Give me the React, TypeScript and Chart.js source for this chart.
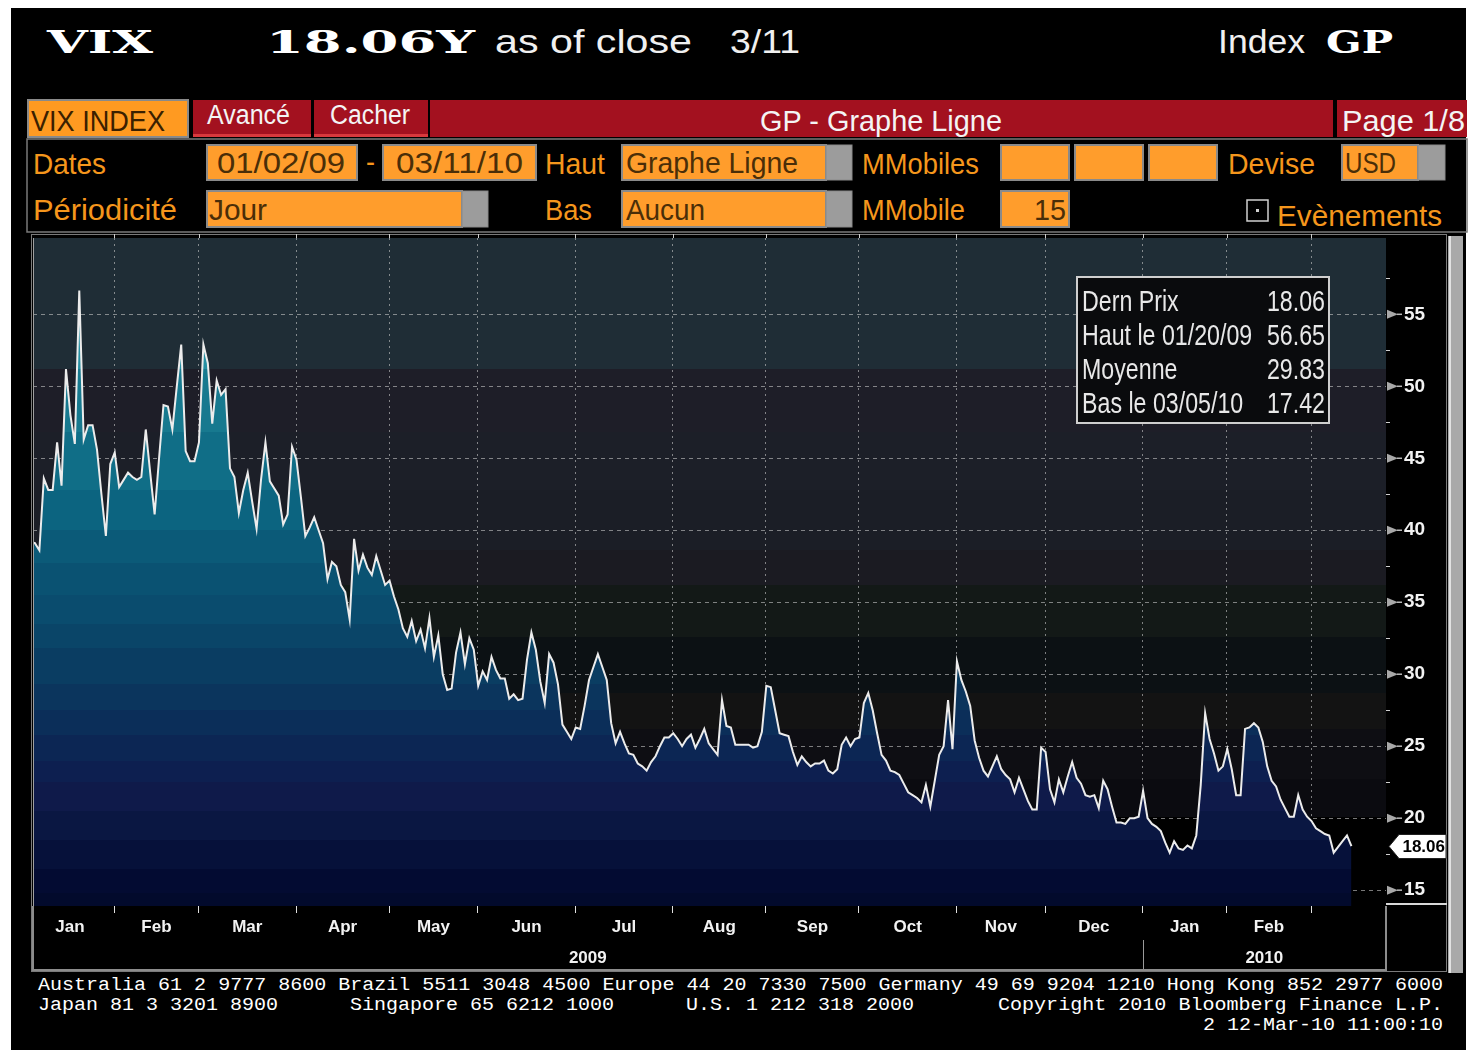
import React, { useEffect, useRef } from 'react';
import { Chart, registerables } from 'chart.js';

Chart.register(...registerables);

// ---- VIX daily closes, one array per month (trading days) ----
const jan09 = [39.2, 39.1, 38.6, 43.6, 42.8, 42.8, 46.1, 43.1, 51.2, 48.0, 46.0, 56.65, 46.3, 47.3, 47.3, 45.6, 42.5, 39.6, 44.6, 45.4];
const feb09 = [43.0, 43.5, 44.0, 43.7, 43.5, 43.7, 47.0, 44.0, 41.1, 45.0, 48.7, 48.6, 47.0, 50.0, 52.9, 45.5, 44.8, 44.8, 46.1];
const mar09 = [52.9, 51.6, 47.4, 50.4, 49.4, 49.8, 44.3, 43.7, 41.2, 42.8, 44.0, 42.0, 40.1, 43.5, 46.1, 43.4, 42.9, 42.4, 40.4, 41.1, 45.8, 44.9];
const apr09 = [42.3, 39.6, 40.2, 40.9, 40.0, 39.1, 36.6, 37.8, 37.5, 36.2, 35.7, 33.8, 39.4, 37.2, 38.3, 37.4, 36.9, 38.2, 37.2, 36.2, 36.5];
const may09 = [35.4, 34.5, 33.2, 32.6, 33.7, 32.3, 33.1, 31.8, 33.9, 31.2, 32.7, 30.0, 28.9, 29.0, 31.5, 32.9, 30.7, 32.5, 31.7, 29.2];
const jun09 = [30.2, 29.6, 31.2, 30.3, 29.7, 29.7, 28.3, 28.6, 28.2, 28.3, 31.0, 32.9, 31.7, 29.5, 28.0, 31.4, 30.8, 29.3, 26.5, 26.0, 25.5, 26.3];
const jul09 = [26.2, 27.8, 29.6, 30.5, 31.4, 30.5, 29.6, 26.6, 25.2, 26.0, 25.2, 24.5, 24.4, 23.8, 23.6, 23.3, 23.9, 24.3, 25.0, 25.6, 25.6, 25.9];
const aug09 = [25.5, 25.0, 25.5, 25.8, 24.9, 25.5, 26.2, 25.2, 24.8, 24.4, 28.2, 26.4, 26.3, 25.1, 25.1, 25.1, 25.1, 24.9, 25.0, 26.0, 29.2];
const sep09 = [29.1, 27.5, 25.9, 25.8, 25.7, 24.6, 23.7, 24.3, 23.9, 23.6, 23.8, 23.8, 24.0, 23.3, 23.1, 23.4, 25.1, 25.6, 25.0, 25.5, 25.6];
const oct09 = [28.0, 28.7, 27.5, 25.9, 24.4, 24.0, 23.3, 23.2, 23.0, 22.4, 21.8, 21.6, 21.4, 21.1, 22.3, 20.8, 22.6, 24.4, 25.0, 28.2, 24.8, 30.9];
const nov09 = [29.6, 28.8, 27.8, 25.4, 24.2, 23.3, 22.9, 23.6, 24.3, 23.4, 23.0, 22.7, 21.8, 22.8, 22.0, 21.2, 20.6, 20.6, 24.9, 24.6];
const dec09 = [22.0, 21.1, 22.7, 21.8, 22.9, 23.9, 22.8, 22.4, 21.6, 21.5, 21.6, 20.7, 22.6, 22.0, 20.8, 19.7, 19.7, 19.6, 20.0, 20.0, 20.1, 21.9];
const jan10 = [20.0, 19.6, 19.4, 19.1, 18.3, 17.6, 18.4, 17.9, 17.8, 18.1, 17.9, 18.8, 22.3, 27.3, 25.5, 24.5, 23.3, 23.6, 24.8];
const feb10 = [23.4, 21.6, 21.6, 26.2, 26.3, 26.6, 26.3, 25.3, 23.6, 22.6, 22.2, 21.3, 20.7, 20.1, 20.1, 21.6, 20.6, 20.1, 19.8];
const mar10 = [19.3, 19.1, 18.9, 18.8, 17.6, 18.0, 18.4, 18.8, 18.06];

const monthSeries = [jan09, feb09, mar09, apr09, may09, jun09, jul09, aug09, sep09, oct09, nov09, dec09, jan10, feb10, mar10];
const monthLabels = ['Jan', 'Feb', 'Mar', 'Apr', 'May', 'Jun', 'Jul', 'Aug', 'Sep', 'Oct', 'Nov', 'Dec', 'Jan', 'Feb'];
const yearLabels = ['2009', '2010'];
const yTickValues = [15, 20, 25, 30, 35, 40, 45, 50, 55];
const statLabels = ['Dern Prix', 'Haut le 01/20/09', 'Moyenne', 'Bas le 03/05/10'];
const statValues = ['18.06', '56.65', '29.83', '17.42'];
const lastPriceLabel = '18.06';

// ---- styles ----
const bgBandTops = [60.3, 51.2, 46.8, 42.8, 38.6, 36.2, 32.6, 28.7, 26.2, 22.7, 20.1];
const bgBandColors = ['#1f2d36', '#1e1e28', '#1c1f28', '#1b1e26', '#1b1b22', '#131917', '#0c1114', '#131313', '#0e0e13', '#0b0b10', '#000000'];
const fillBandTops = [60.3, 51.2, 46.8, 42.8, 40.0, 37.7, 35.5, 33.5, 31.8, 29.3, 27.5, 25.8, 24.0, 22.5, 20.5, 18.5, 16.5, 14.8];
const fillBandColors = ['#2590a3', '#17798f', '#106e87', '#0c6480', '#0b5a78', '#0a5272', '#0a4c6e', '#0a4568', '#0a3d62', '#0b355d', '#0b2e59', '#0c2654', '#0d1f50', '#0f1a4a', '#0a1742', '#06113a', '#030b32', '#020a2c'];

const XMIN = 0.56, XMAX = 305.8, YMIN = 13.9, YMAX = 60.3;
const GRID_SHIFT = 1.1;
const OX = 30, OY = 232;
const FONT = "'Liberation Sans', Arial, sans-serif";

const monthStarts: number[] = [];
{
  let acc = 0;
  monthSeries.forEach((m) => { monthStarts.push(acc); acc += m.length; });
}
const allValues = monthSeries.flat();
const points = allValues.map((v, i) => ({ x: i, y: v }));
const boundaries = monthStarts.slice(1).map((s) => s - GRID_SHIFT);
const labelCenters = monthLabels.map((_, k) => (monthStarts[k] + monthStarts[k + 1]) / 2 - GRID_SHIFT);
const yearBoundary = monthStarts[12] - GRID_SHIFT;
const yearCenters = [(XMIN + yearBoundary) / 2, (yearBoundary + XMAX) / 2];
const key = (v: number) => v.toFixed(3);
const labelMap = new Map<string, string>();
labelCenters.forEach((v, k) => labelMap.set(key(v), monthLabels[k]));
const boundarySet = new Set(boundaries.map(key));
const xTicks = [...boundaries, ...labelCenters].sort((a, b) => a - b);

const decor = {
  id: 'decor',
  beforeDraw(chart: any) {
    const { ctx, chartArea: a, scales } = chart;
    const y = scales.y;
    ctx.save();
    for (let k = 0; k < bgBandTops.length; k++) {
      const top = bgBandTops[k];
      const bot = k + 1 < bgBandTops.length ? bgBandTops[k + 1] : YMIN;
      const p0 = Math.round(Math.max(a.top, y.getPixelForValue(top)));
      const p1 = Math.round(Math.min(a.bottom, y.getPixelForValue(bot)));
      ctx.fillStyle = bgBandColors[k];
      ctx.fillRect(a.left, p0, a.right - a.left, p1 - p0);
    }
    ctx.restore();
  },
  afterDraw(chart: any) {
    const { ctx, chartArea: a, scales } = chart;
    const y = scales.y;
    const x = scales.x;
    const W = chart.width, H = chart.height;
    ctx.save();
    // panel frame
    ctx.strokeStyle = '#7a7a7a';
    ctx.lineWidth = 1;
    ctx.strokeRect(1.5, 2.5, W - 3, H - 4);
    // plot left edge
    ctx.strokeStyle = '#a0a0a0';
    ctx.beginPath(); ctx.moveTo(a.left + 0.5, a.top); ctx.lineTo(a.left + 0.5, a.bottom); ctx.stroke();
    // top tick marks at month boundaries
    ctx.strokeStyle = '#cfcfcf';
    boundaries.forEach((b) => {
      const px = Math.round(x.getPixelForValue(b)) + 0.5;
      ctx.beginPath(); ctx.moveTo(px, a.top - 4); ctx.lineTo(px, a.top); ctx.stroke();
    });
    // x axis box
    ctx.strokeStyle = '#8c8c8c';
    ctx.lineWidth = 2;
    ctx.beginPath();
    ctx.moveTo(a.left, a.bottom); ctx.lineTo(a.left, H - 3);
    ctx.lineTo(a.right, H - 3); ctx.lineTo(a.right, a.bottom);
    ctx.stroke();
    // year separator
    const sx = Math.round(x.getPixelForValue(yearBoundary)) + 0.5;
    ctx.lineWidth = 1;
    ctx.strokeStyle = '#9a9a9a';
    ctx.beginPath(); ctx.moveTo(sx, a.bottom + 34); ctx.lineTo(sx, H - 4); ctx.stroke();
    // right axis bottom line
    ctx.strokeStyle = '#d8d8d8';
    ctx.lineWidth = 2;
    ctx.beginPath(); ctx.moveTo(a.right, a.bottom - 2); ctx.lineTo(W - 1, a.bottom - 2); ctx.stroke();
    // y axis wedges + minor ticks
    yTickValues.forEach((v) => {
      const py = y.getPixelForValue(v);
      ctx.fillStyle = '#a8a8a8';
      ctx.beginPath();
      ctx.moveTo(a.right + 1, py - 4.5); ctx.lineTo(a.right + 12, py); ctx.lineTo(a.right + 1, py + 4.5);
      ctx.closePath(); ctx.fill();
      ctx.strokeStyle = '#b8b8b8'; ctx.lineWidth = 1.5;
      ctx.beginPath(); ctx.moveTo(a.right + 11, py); ctx.lineTo(a.right + 16, py); ctx.stroke();
      const pm = Math.round(y.getPixelForValue(v + 2.5)) + 0.5;
      ctx.strokeStyle = '#d0d0d0'; ctx.lineWidth = 1;
      ctx.beginPath(); ctx.moveTo(a.right, pm); ctx.lineTo(a.right + 4, pm); ctx.stroke();
    });
    // last price tag
    const last = allValues[allValues.length - 1];
    const ty = Math.round(y.getPixelForValue(last)) + 0.5;
    ctx.fillStyle = '#ffffff';
    ctx.strokeStyle = '#202020';
    ctx.lineWidth = 1;
    ctx.beginPath();
    ctx.moveTo(a.right + 3, ty);
    ctx.lineTo(a.right + 13, ty - 12);
    ctx.lineTo(W - 2, ty - 12);
    ctx.lineTo(W - 2, ty + 12);
    ctx.lineTo(a.right + 13, ty + 12);
    ctx.closePath();
    ctx.fill(); ctx.stroke();
    ctx.fillStyle = '#000000';
    ctx.font = `bold 17px ${FONT}`;
    ctx.textAlign = 'right';
    ctx.textBaseline = 'middle';
    ctx.fillText(lastPriceLabel, W - 3, ty + 1);
    // statistics box
    const bx = 1077 - OX, by = 277 - OY, bw = 252, bh = 146;
    ctx.fillStyle = '#0a0b0d';
    ctx.fillRect(bx, by, bw, bh);
    ctx.strokeStyle = '#cfcfcf';
    ctx.lineWidth = 2;
    ctx.strokeRect(bx, by, bw, bh);
    ctx.fillStyle = '#e8e8e8';
    ctx.font = `29px ${FONT}`;
    ctx.textBaseline = 'alphabetic';
    statLabels.forEach((lab, k) => {
      const base = 311 - OY + k * 34;
      ctx.save(); ctx.translate(1082 - OX, base); ctx.scale(0.8, 1);
      ctx.textAlign = 'left'; ctx.fillText(lab, 0, 0); ctx.restore();
      ctx.save(); ctx.translate(1325 - OX, base); ctx.scale(0.8, 1);
      ctx.textAlign = 'right'; ctx.fillText(statValues[k], 0, 0); ctx.restore();
    });
    ctx.restore();
  },
};

const ORANGE_TXT = '#f5961c';
const FIELD = '#ff9d2c';
const FIELD_TXT = '#4a2e08';
const RED = '#a3111f';

type TP = { x: number; y: number; s: number; w: number; c: string; t: string; f?: string; b?: boolean };
const T = ({ x, y, s, w, c, t, f = FONT, b = false }: TP) => (
  <text x={x} y={y} fontSize={s} fill={c} fontFamily={f} fontWeight={b ? 'bold' : 'normal'} textLength={w} lengthAdjust="spacingAndGlyphs">{t}</text>
);
const Field = ({ x, y, w, h, gray = 0 }: { x: number; y: number; w: number; h: number; gray?: number }) => (
  <g>
    <rect x={x} y={y} width={w} height={h} fill={FIELD} stroke="#8a8a8a" strokeWidth={2} />
    {gray ? <rect x={x + w} y={y} width={gray} height={h} fill="#9c9c9c" stroke="#8a8a8a" strokeWidth={1} /> : null}
  </g>
);

export default function App() {
  const ref = useRef<HTMLCanvasElement>(null);
  useEffect(() => {
    if (!ref.current) return;
    const chart = new Chart(ref.current, {
      type: 'line',
      data: {
        datasets: [{
          data: points,
          borderColor: '#ececec',
          borderWidth: 2,
          pointRadius: 0,
          tension: 0,
          fill: 'start',
          backgroundColor: (c: any) => {
            const ch = c.chart;
            const a = ch.chartArea;
            if (!a) return 'rgba(0,0,0,0)';
            const y = ch.scales.y;
            const g = ch.ctx.createLinearGradient(0, a.top, 0, a.bottom);
            const Hh = a.bottom - a.top;
            const cl = (p: number) => Math.min(1, Math.max(0, p));
            for (let k = 0; k < fillBandTops.length; k++) {
              const top = fillBandTops[k];
              const bot = k + 1 < fillBandTops.length ? fillBandTops[k + 1] : YMIN;
              g.addColorStop(cl((y.getPixelForValue(top) - a.top) / Hh), fillBandColors[k]);
              g.addColorStop(cl((y.getPixelForValue(bot) - a.top) / Hh), fillBandColors[k]);
            }
            return g;
          },
        }],
      },
      options: {
        responsive: false,
        animation: false,
        events: [],
        parsing: false,
        layout: { padding: { left: 3, top: 6, right: 0, bottom: 0 } },
        plugins: { legend: { display: false }, tooltip: { enabled: false } },
        scales: {
          x: {
            type: 'linear', position: 'bottom', min: XMIN, max: XMAX, weight: 0, z: 1,
            afterBuildTicks: (s: any) => { s.ticks = xTicks.map((v) => ({ value: v })); },
            afterFit: (s: any) => { s.height = 34; s.paddingLeft = 0; s.paddingRight = 0; },
            grid: {
              color: (c: any) => (c.tick && boundarySet.has(key(c.tick.value)) ? 'rgba(200,200,200,0.6)' : 'rgba(0,0,0,0)'),
              tickColor: (c: any) => (c.tick && boundarySet.has(key(c.tick.value)) ? '#e0e0e0' : 'rgba(0,0,0,0)'),
              lineWidth: 1, drawTicks: true, tickLength: 7,
            },
            border: { display: false, dash: [2, 4] },
            ticks: {
              autoSkip: false, maxRotation: 0, minRotation: 0, padding: 4, color: '#f2f2f2',
              font: { family: FONT, size: 17, weight: 'bold' },
              callback: (v: any) => labelMap.get(key(Number(v))) || '',
            },
          },
          x2: {
            type: 'linear', position: 'bottom', min: XMIN, max: XMAX, weight: 1,
            afterBuildTicks: (s: any) => { s.ticks = yearCenters.map((v) => ({ value: v })); },
            afterFit: (s: any) => { s.height = 33; s.paddingLeft = 0; s.paddingRight = 0; },
            grid: { display: false, drawTicks: false },
            border: { display: false },
            ticks: {
              autoSkip: false, maxRotation: 0, minRotation: 0, padding: 8, color: '#f2f2f2',
              font: { family: FONT, size: 17, weight: 'bold' },
              callback: (_v: any, i: number) => yearLabels[i],
            },
          },
          y: {
            type: 'linear', position: 'right', min: YMIN, max: YMAX, z: 1,
            afterBuildTicks: (s: any) => { s.ticks = yTickValues.map((v) => ({ value: v })); },
            afterFit: (s: any) => { s.width = 62; s.paddingTop = 0; s.paddingBottom = 0; },
            grid: { color: 'rgba(200,200,200,0.6)', lineWidth: 1, drawTicks: false },
            border: { display: false, dash: [4, 4] },
            ticks: {
              padding: 18, color: '#f2f2f2',
              font: { family: FONT, size: 19, weight: 'bold' },
              callback: (v: any) => String(v),
            },
          },
        },
      },
      plugins: [decor],
    } as any);
    return () => chart.destroy();
  }, []);

  return (
    <div style={{ position: 'absolute', left: 0, top: 0, width: 1472, height: 1057, background: '#ffffff', overflow: 'hidden' }}>
      <svg width={1472} height={1057} style={{ position: 'absolute', left: 0, top: 0 }}>
        <rect x={11} y={8} width={1455} height={1042} fill="#000000" />
        {/* header */}
        <T x={47} y={53} s={32} w={106} c="#ffffff" t="VIX" f="'DejaVu Serif', serif" b />
        <T x={266} y={53} s={32} w={209} c="#ffffff" t="18.06Y" f="'DejaVu Serif', serif" b />
        <T x={495} y={53} s={34} w={197} c="#f0f0f0" t="as of close" />
        <T x={730} y={53} s={34} w={70} c="#f0f0f0" t="3/11" />
        <T x={1218} y={53} s={34} w={87} c="#f0f0f0" t="Index" />
        <T x={1326} y={53} s={32} w={67} c="#ffffff" t="GP" f="'DejaVu Serif', serif" b />
        {/* row 1: tabs */}
        <rect x={28} y={100} width={160} height={37} fill="#ff9a21" stroke="#8a8a8a" strokeWidth={2} />
        <T x={31} y={131} s={29} w={134} c="#3a2000" t="VIX INDEX" />
        <rect x={193} y={100} width={118} height={37} fill={RED} />
        <rect x={193} y={134} width={118} height={3} fill="#d8393d" />
        <T x={207} y={124} s={27} w={83} c="#f4f4f4" t="Avancé" />
        <rect x={314} y={100} width={114} height={37} fill={RED} />
        <rect x={314} y={134} width={114} height={3} fill="#d8393d" />
        <T x={330} y={124} s={27} w={80} c="#f4f4f4" t="Cacher" />
        <rect x={430} y={100} width={903} height={37} fill={RED} />
        <T x={760} y={131} s={29} w={242} c="#f4f4f4" t="GP - Graphe Ligne" />
        <rect x={1337} y={100} width={130} height={37} fill={RED} />
        <T x={1342} y={131} s={29} w={123} c="#f4f4f4" t="Page 1/8" />
        {/* settings panel */}
        <rect x={27} y={139} width={1440} height={93} fill="none" stroke="#7a7a7a" strokeWidth={1.5} />
        <T x={33} y={174} s={30} w={73} c={ORANGE_TXT} t="Dates" />
        <Field x={207} y={145} w={150} h={35} />
        <T x={217} y={173} s={30} w={128} c={FIELD_TXT} t="01/02/09" />
        <T x={366} y={172} s={30} w={9} c={ORANGE_TXT} t="-" />
        <Field x={383} y={145} w={153} h={35} />
        <T x={396} y={173} s={30} w={127} c={FIELD_TXT} t="03/11/10" />
        <T x={545} y={174} s={30} w={60} c={ORANGE_TXT} t="Haut" />
        <Field x={622} y={145} w={204} h={35} gray={26} />
        <T x={626} y={173} s={30} w={172} c={FIELD_TXT} t="Graphe Ligne" />
        <T x={862} y={174} s={30} w={117} c={ORANGE_TXT} t="MMobiles" />
        <Field x={1001} y={145} w={68} h={35} />
        <Field x={1075} y={145} w={68} h={35} />
        <Field x={1149} y={145} w={68} h={35} />
        <T x={1228} y={174} s={30} w={87} c={ORANGE_TXT} t="Devise" />
        <Field x={1342} y={145} w={76} h={35} gray={27} />
        <T x={1345} y={173} s={30} w={51} c={FIELD_TXT} t="USD" />
        <T x={33} y={220} s={30} w={144} c={ORANGE_TXT} t="Périodicité" />
        <Field x={207} y={191} w={255} h={36} gray={26} />
        <T x={209} y={220} s={30} w={58} c={FIELD_TXT} t="Jour" />
        <T x={545} y={220} s={30} w={47} c={ORANGE_TXT} t="Bas" />
        <Field x={622} y={191} w={204} h={36} gray={26} />
        <T x={626} y={220} s={30} w={79} c={FIELD_TXT} t="Aucun" />
        <T x={862} y={220} s={30} w={103} c={ORANGE_TXT} t="MMobile" />
        <Field x={1001} y={191} w={68} h={36} />
        <T x={1034} y={220} s={30} w={32} c={FIELD_TXT} t="15" />
        <rect x={1247} y={200} width={21} height={21} fill="#000000" stroke="#d0d0d0" strokeWidth={1.5} />
        <rect x={1256} y={209} width={3} height={3} fill="#d0d0d0" />
        <T x={1277} y={226} s={30} w={165} c={ORANGE_TXT} t="Evènements" />
        {/* scrollbar */}
        <rect x={1448} y={236} width={15} height={737} fill="#a9a9a9" />
        <rect x={1449} y={236} width={2} height={737} fill="#e2e2e2" />
        {/* footer */}
        <T x={38} y={990} s={19} w={1405} c="#ffffff" f="'Liberation Mono', monospace" t="Australia 61 2 9777 8600 Brazil 5511 3048 4500 Europe 44 20 7330 7500 Germany 49 69 9204 1210 Hong Kong 852 2977 6000" />
        <T x={38} y={1010} s={19} w={240} c="#ffffff" f="'Liberation Mono', monospace" t="Japan 81 3 3201 8900" />
        <T x={350} y={1010} s={19} w={264} c="#ffffff" f="'Liberation Mono', monospace" t="Singapore 65 6212 1000" />
        <T x={686} y={1010} s={19} w={228} c="#ffffff" f="'Liberation Mono', monospace" t="U.S. 1 212 318 2000" />
        <T x={998} y={1010} s={19} w={445} c="#ffffff" f="'Liberation Mono', monospace" t="Copyright 2010 Bloomberg Finance L.P." />
        <T x={1203} y={1030} s={19} w={240} c="#ffffff" f="'Liberation Mono', monospace" t="2 12-Mar-10 11:00:10" />
      </svg>
      <canvas ref={ref} width={1418} height={741} style={{ position: 'absolute', left: OX, top: OY, width: 1418, height: 741 }} />
    </div>
  );
}
